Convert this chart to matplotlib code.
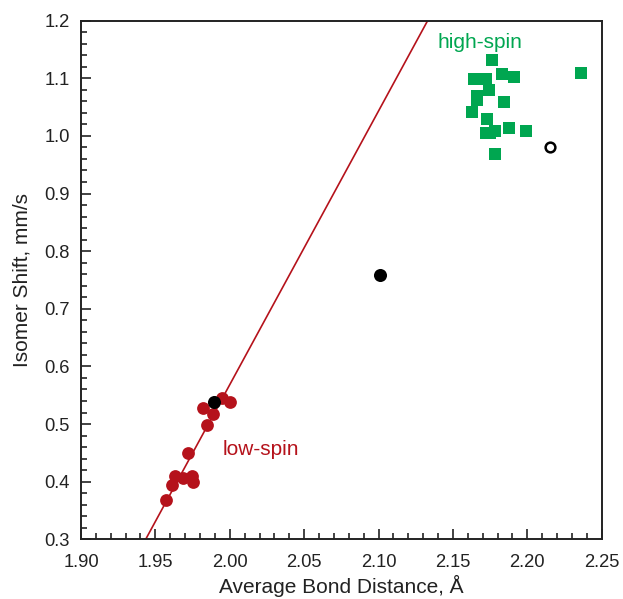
import matplotlib
matplotlib.use("Agg")
import matplotlib.pyplot as plt
from matplotlib.ticker import MultipleLocator

plt.rcParams['font.family'] = ['Liberation Sans', 'DejaVu Sans']

# low-spin (red circles)
low_x = [1.9571, 1.9610, 1.9632, 1.9688, 1.9744, 1.9755, 1.9717, 1.9845,
         1.9885, 1.9820, 1.9950, 2.0002]
low_y = [0.368, 0.394, 0.409, 0.406, 0.410, 0.400, 0.450, 0.498,
         0.517, 0.527, 0.545, 0.539]

# high-spin (green squares)
high_x = [2.176, 2.164, 2.172, 2.183, 2.191, 2.236, 2.174, 2.166, 2.166,
          2.184, 2.163, 2.173, 2.172, 2.175, 2.178, 2.188, 2.199, 2.178]
high_y = [1.131, 1.099, 1.099, 1.107, 1.102, 1.109, 1.080, 1.070, 1.063,
          1.058, 1.041, 1.030, 1.005, 1.005, 1.009, 1.014, 1.009, 0.968]

# other points
black_x = [1.9894, 2.101]
black_y = [0.539, 0.759]
open_x = [2.215]
open_y = [0.980]

# fitted line
fit_x = [1.9435, 2.133]
fit_y = [0.30, 1.20]

red = '#B5121B'
green = '#00A650'

fig = plt.figure(figsize=(6.23, 5.99), dpi=100)
ax = fig.add_axes([0.130, 0.0997, 0.8358, 0.8658])

ax.plot(fit_x, fit_y, color=red, lw=1.2, zorder=2)
ax.plot(low_x, low_y, 'o', color=red, ms=9.2, mew=0, zorder=3)
ax.plot(high_x, high_y, 's', color=green, ms=8.4, mew=0, zorder=3)
ax.plot(black_x, black_y, 'o', color='black', ms=9.4, mew=0, zorder=4)
ax.plot(open_x, open_y, 'o', mfc='white', mec='black', ms=7, mew=1.8, zorder=4)

ax.text(2.021, 0.456, 'low-spin', color=red, fontsize=15, ha='center', va='center')
ax.text(2.168, 1.162, 'high-spin', color=green, fontsize=15, ha='center', va='center')

ax.set_xlim(1.90, 2.25)
ax.set_ylim(0.3, 1.2)
ax.xaxis.set_major_locator(MultipleLocator(0.05))
ax.xaxis.set_minor_locator(MultipleLocator(0.01))
ax.yaxis.set_major_locator(MultipleLocator(0.1))
ax.yaxis.set_minor_locator(MultipleLocator(0.02))
ax.xaxis.set_major_formatter(plt.FormatStrFormatter('%.2f'))
ax.yaxis.set_major_formatter(plt.FormatStrFormatter('%.1f'))

ax.tick_params(which='both', direction='in', top=False, right=False,
               labelsize=13.2, width=1.2, colors='#222222', labelcolor='#222222')
ax.tick_params(axis='x', which='major', pad=10.5)
ax.tick_params(axis='y', which='major', pad=8)
ax.tick_params(which='major', length=7)
ax.tick_params(which='minor', length=4)
for s in ax.spines.values():
    s.set_linewidth(1.4)
    s.set_color('#222222')

ax.set_xlabel('Average Bond Distance, Å', fontsize=15, color='#222222', labelpad=3)
ax.set_ylabel('Isomer Shift, mm/s', fontsize=15, color='#222222', labelpad=9)

fig.savefig('out.png', dpi=100)
